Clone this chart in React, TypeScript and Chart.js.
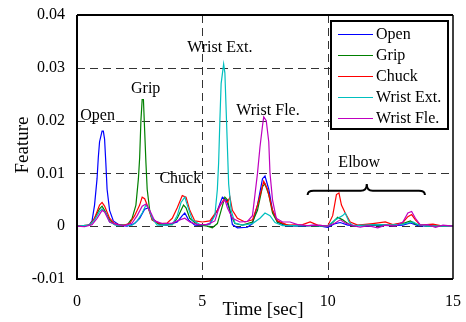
import { useEffect, useRef } from "react";
import { Chart, registerables } from "chart.js";

Chart.register(...registerables);

const seriesNames = ["Open", "Grip", "Chuck", "Wrist Ext.", "Wrist Fle."];
const seriesColors = ["#0000ff", "#008000", "#ff0000", "#00bfbf", "#bf00bf"];

const openT = [0, 0.3, 0.5, 0.6, 0.7, 0.8, 0.85, 0.9, 1.0, 1.05, 1.1, 1.15, 1.2, 1.3, 1.45, 1.7, 2.0, 2.3, 2.5, 2.7, 2.85, 3.0, 3.3, 3.6, 4.0, 4.2, 4.3, 4.45, 4.7, 5.0, 5.3, 5.6, 5.8, 5.95, 6.1, 6.2, 6.4, 6.8, 7.0, 7.2, 7.4, 7.5, 7.65, 7.8, 8.0, 8.3, 9.0, 9.5, 10.0, 10.3, 10.5, 10.8, 11.5, 12.0, 12.5, 13.0, 13.3, 13.6, 14.0, 15.0];
const openV = [0, 0, 0.0003, 0.001, 0.004, 0.009, 0.013, 0.016, 0.018, 0.018, 0.0165, 0.012, 0.007, 0.003, 0.001, 0.0002, 0, 0.0005, 0.0015, 0.0032, 0.0035, 0.0015, 0.0003, 0.0002, 0.0008, 0.002, 0.0025, 0.0012, 0.0002, 0.0001, 0.0005, 0.003, 0.0055, 0.005, 0.003, 0.0003, -0.0003, -0.0002, 0.0005, 0.004, 0.009, 0.0095, 0.007, 0.003, 0.0008, 0.0001, 0, 0.0002, -0.0002, 0.0005, 0.0007, 0.0002, 0, 0.0002, 0.0001, 0.0002, 0.0006, 0.0001, 0, 0];

const gripT = [0, 0.5, 0.7, 0.9, 1.0, 1.1, 1.3, 1.5, 2.0, 2.2, 2.35, 2.45, 2.5, 2.55, 2.6, 2.65, 2.7, 2.75, 2.8, 2.9, 3.0, 3.3, 3.8, 4.0, 4.15, 4.25, 4.35, 4.5, 4.8, 5.2, 5.4, 5.6, 5.75, 5.9, 6.0, 6.15, 6.3, 6.6, 7.0, 7.2, 7.4, 7.5, 7.65, 7.8, 8.0, 8.5, 9.5, 10.0, 10.2, 10.4, 10.6, 10.8, 11.0, 12.0, 12.5, 13.0, 13.3, 13.5, 14.0, 15.0];
const gripV = [0, 0.0002, 0.0015, 0.0033, 0.0038, 0.003, 0.0012, 0.0003, 0.0002, 0.0015, 0.004, 0.009, 0.013, 0.02, 0.024, 0.024, 0.018, 0.012, 0.007, 0.003, 0.0012, 0.0003, 0.0003, 0.0015, 0.003, 0.004, 0.0035, 0.0015, 0.0003, 0, -0.0003, 0.0005, 0.003, 0.0055, 0.005, 0.002, 0.0005, 0.0002, 0.0008, 0.003, 0.0075, 0.008, 0.006, 0.0025, 0.0007, 0.0001, 0.0001, 0, 0.0007, 0.0017, 0.0012, 0.0005, 0.0001, 0.0003, 0.0002, 0.0005, 0.001, 0.0004, 0, 0];

const chuckT = [0, 0.5, 0.7, 0.9, 1.0, 1.1, 1.3, 1.5, 1.8, 2.1, 2.3, 2.5, 2.6, 2.7, 2.8, 3.0, 3.3, 3.6, 3.8, 4.0, 4.2, 4.35, 4.5, 4.7, 5.0, 5.3, 5.6, 5.85, 6.0, 6.1, 6.2, 6.4, 6.7, 7.0, 7.2, 7.45, 7.6, 7.8, 8.0, 8.4, 9.0, 9.3, 9.6, 10.0, 10.2, 10.35, 10.45, 10.55, 10.7, 10.9, 11.2, 11.8, 12.3, 12.6, 13.0, 13.2, 13.35, 13.5, 13.7, 14.2, 14.5, 15.0];
const chuckV = [0, 0.0002, 0.0015, 0.004, 0.0045, 0.0038, 0.0015, 0.0005, 0.0001, 0.0005, 0.002, 0.004, 0.0055, 0.0052, 0.004, 0.0012, 0.0005, 0.0006, 0.0015, 0.0035, 0.0058, 0.0055, 0.003, 0.001, 0.0008, 0.001, 0.003, 0.005, 0.0045, 0.0055, 0.003, 0.0015, 0.0008, 0.0012, 0.004, 0.0085, 0.007, 0.003, 0.001, 0.0002, 0.0003, 0.0008, 0.0002, 0, 0.002, 0.006, 0.0063, 0.004, 0.0025, 0.0008, 0.0002, 0.0005, 0.0008, 0.0003, 0.0007, 0.0018, 0.0022, 0.0012, 0.0002, 0.0004, 0.0001, 0];

const extT = [0, 0.5, 0.7, 0.9, 1.0, 1.15, 1.3, 1.6, 2.2, 2.4, 2.6, 2.75, 2.85, 3.0, 3.2, 3.8, 4.0, 4.15, 4.3, 4.4, 4.6, 4.9, 5.3, 5.5, 5.6, 5.65, 5.7, 5.75, 5.85, 5.9, 5.95, 6.0, 6.05, 6.15, 6.3, 6.6, 7.0, 7.3, 7.5, 7.7, 7.9, 8.2, 9.5, 10.0, 10.3, 10.6, 10.7, 10.85, 11.0, 12.0, 12.5, 13.0, 13.4, 13.6, 14.0, 15.0];
const extV = [0, 0.0002, 0.0012, 0.0028, 0.0033, 0.0025, 0.0008, 0.0001, 0.0002, 0.001, 0.0025, 0.004, 0.0035, 0.0015, 0.0002, 0.0003, 0.002, 0.0045, 0.0055, 0.004, 0.0012, 0.0003, 0.0003, 0.002, 0.007, 0.012, 0.02, 0.027, 0.0307, 0.029, 0.022, 0.015, 0.008, 0.003, 0.0006, 0.0002, 0.0005, 0.0015, 0.0025, 0.002, 0.0007, 0.0001, 0.0001, 0, 0.0012, 0.002, 0.0025, 0.0008, 0.0001, 0.0003, 0.0002, 0.0004, 0.0008, 0.0003, 0, 0];

const fleT = [0, 0.3, 0.6, 0.8, 1.0, 1.1, 1.3, 1.6, 1.9, 2.2, 2.4, 2.6, 2.75, 2.9, 3.1, 3.4, 3.8, 4.1, 4.3, 4.5, 4.8, 5.2, 5.5, 5.7, 5.9, 6.0, 6.2, 6.5, 6.8, 7.0, 7.1, 7.2, 7.3, 7.4, 7.45, 7.55, 7.65, 7.7, 7.8, 7.95, 8.2, 8.5, 8.8, 9.2, 9.6, 10.0, 10.3, 10.5, 10.7, 11.0, 11.3, 11.6, 12.0, 12.3, 12.7, 13.0, 13.2, 13.35, 13.5, 13.7, 14.0, 14.3, 14.6, 15.0];
const fleV = [0, -0.0001, 0.0003, 0.0015, 0.003, 0.0027, 0.0008, 0.0003, 0.0001, 0.0006, 0.002, 0.0038, 0.0042, 0.003, 0.001, 0.0005, 0.0006, 0.0012, 0.0015, 0.0008, 0.0003, 0.0003, 0.001, 0.004, 0.005, 0.0035, 0.0015, 0.0008, 0.0009, 0.002, 0.006, 0.01, 0.015, 0.019, 0.0207, 0.02, 0.016, 0.01, 0.005, 0.0015, 0.0008, 0.0008, 0.0003, 0.0001, 0.0002, 0, 0.0006, 0.0012, 0.0006, 0.0001, -0.0002, 0.0001, -0.0003, 0.0002, 0, 0.0008, 0.0025, 0.0028, 0.0015, 0.0002, 0.0003, -0.0002, 0.0002, 0];

const seriesT = [openT, gripT, chuckT, extT, fleT];
const seriesV = [openV, gripV, chuckV, extV, fleV];

const xTickValues = [0, 5, 10, 15];
const yTickValues = [-0.01, 0, 0.01, 0.02, 0.03, 0.04];
const xGridValues = [5, 10];
const yGridValues = [0, 0.01, 0.02, 0.03];

const annotationLabels = ["Open", "Grip", "Chuck", "Wrist Ext.", "Wrist Fle.", "Elbow"];
const annotationT = [0.82, 2.74, 4.12, 5.7, 7.62, 11.26];
const annotationV = [0.0209, 0.026, 0.0089, 0.0338, 0.0218, 0.0121];
const braceT = [9.2, 11.56, 13.88];
const braceV = [0.0059, 0.0067, 0.008];

const xTitle = "Time [sec]";
const yTitle = "Feature";

const FONT = "'Liberation Serif', 'Times New Roman', serif";

const overlayPlugin = {
  id: "overlay",
  beforeDatasetsDraw(chart: any) {
    const { ctx, chartArea, scales } = chart;
    const xs = scales.x;
    const ys = scales.y;
    ctx.save();
    ctx.strokeStyle = "#333";
    ctx.lineWidth = 1;
    ctx.setLineDash([8, 5]);
    for (const v of yGridValues) {
      const y = Math.round(ys.getPixelForValue(v)) + 0.5;
      ctx.beginPath();
      ctx.moveTo(chartArea.left, y);
      ctx.lineTo(chartArea.right, y);
      ctx.stroke();
    }
    for (const t of xGridValues) {
      const x = Math.round(xs.getPixelForValue(t)) + 0.5;
      ctx.beginPath();
      ctx.moveTo(x, chartArea.top);
      ctx.lineTo(x, chartArea.bottom);
      ctx.stroke();
    }
    ctx.restore();
  },
  afterDatasetsDraw(chart: any) {
    const { ctx, chartArea, scales } = chart;
    const xs = scales.x;
    const ys = scales.y;
    const { left, right, top, bottom } = chartArea;
    ctx.save();
    ctx.strokeStyle = "#000";
    ctx.lineWidth = 2;
    ctx.beginPath();
    ctx.moveTo(left, top);
    ctx.lineTo(left, bottom);
    ctx.lineTo(right, bottom);
    ctx.moveTo(left, top);
    ctx.lineTo(right, top);
    ctx.stroke();
    ctx.lineWidth = 1.5;
    ctx.beginPath();
    ctx.moveTo(right, top);
    ctx.lineTo(right, bottom);
    ctx.stroke();

    // annotations
    ctx.fillStyle = "#000";
    ctx.font = `16px ${FONT}`;
    ctx.textAlign = "center";
    ctx.textBaseline = "middle";
    annotationLabels.forEach((lab, i) => {
      ctx.fillText(lab, xs.getPixelForValue(annotationT[i]), ys.getPixelForValue(annotationV[i]));
    });

    // brace
    const xL = xs.getPixelForValue(braceT[0]);
    const xM = xs.getPixelForValue(braceT[1]);
    const xR = xs.getPixelForValue(braceT[2]);
    const yE = ys.getPixelForValue(braceV[0]);
    const yH = ys.getPixelForValue(braceV[1]);
    const yT = ys.getPixelForValue(braceV[2]);
    ctx.lineWidth = 2;
    ctx.beginPath();
    ctx.moveTo(xL, yE);
    ctx.quadraticCurveTo(xL, yH, xL + 6, yH);
    ctx.lineTo(xM - 6, yH);
    ctx.quadraticCurveTo(xM, yH, xM, yT);
    ctx.quadraticCurveTo(xM, yH, xM + 6, yH);
    ctx.lineTo(xR - 6, yH);
    ctx.quadraticCurveTo(xR, yH, xR, yE);
    ctx.stroke();

    // legend
    const lx = 331, ly = 21, lw = 117, lh = 108;
    ctx.fillStyle = "#fff";
    ctx.fillRect(lx, ly, lw, lh);
    ctx.strokeStyle = "#000";
    ctx.lineWidth = 2;
    ctx.strokeRect(lx, ly, lw, lh);
    ctx.textAlign = "left";
    ctx.textBaseline = "middle";
    chart.data.datasets.forEach((ds: any, i: number) => {
      const y = 34 + i * 21;
      ctx.strokeStyle = ds.borderColor;
      ctx.lineWidth = 1.2;
      ctx.beginPath();
      ctx.moveTo(338, y + 0.5);
      ctx.lineTo(373, y + 0.5);
      ctx.stroke();
      ctx.fillStyle = "#000";
      ctx.fillText(ds.label, 376, y + 1);
    });

    // axis titles
    ctx.font = `19px ${FONT}`;
    ctx.textAlign = "center";
    ctx.textBaseline = "middle";
    ctx.fillText(xTitle, 263, 310);
    ctx.translate(23, 145);
    ctx.rotate(-Math.PI / 2);
    ctx.fillText(yTitle, 0, 0);
    ctx.restore();
  },
};

export default function App() {
  const ref = useRef<HTMLCanvasElement | null>(null);
  useEffect(() => {
    if (!ref.current) return;
    const chart = new Chart(ref.current, {
      type: "line",
      data: {
        datasets: seriesNames.map((name, i) => ({
          label: name,
          data: seriesT[i].map((t, j) => ({ x: t, y: seriesV[i][j] })),
          borderColor: seriesColors[i],
          backgroundColor: seriesColors[i],
          borderWidth: 1.2,
          pointRadius: 0,
          tension: 0,
          fill: false,
          order: 5 - i,
        })),
      },
      options: {
        animation: false,
        responsive: false,
        layout: { padding: { left: 0, top: 15, right: 13, bottom: 0 } },
        plugins: { legend: { display: false }, tooltip: { enabled: false } },
        scales: {
          x: {
            type: "linear",
            min: 0,
            max: 15,
            afterFit: (s: any) => { s.height = 43; },
            afterBuildTicks: (s: any) => { s.ticks = xTickValues.map((v) => ({ value: v })); },
            grid: { display: false },
            border: { display: false },
            ticks: { color: "#000", font: { family: FONT, size: 16 }, padding: 5, maxRotation: 0, callback: (v: any) => String(v) },
          },
          y: {
            type: "linear",
            min: -0.01,
            max: 0.04,
            afterFit: (s: any) => { s.width = 77; },
            afterBuildTicks: (s: any) => { s.ticks = yTickValues.map((v) => ({ value: v })); },
            grid: { display: false },
            border: { display: false },
            ticks: { color: "#000", font: { family: FONT, size: 16 }, padding: 4, callback: (v: any) => String(Number(Number(v).toFixed(2))) },
          },
        },
      },
      plugins: [overlayPlugin],
    });
    return () => chart.destroy();
  }, []);
  return (
    <div style={{ position: "absolute", left: 0, top: 0, width: 466, height: 322 }}>
      <canvas ref={ref} width={466} height={322} style={{ display: "block" }} />
    </div>
  );
}
